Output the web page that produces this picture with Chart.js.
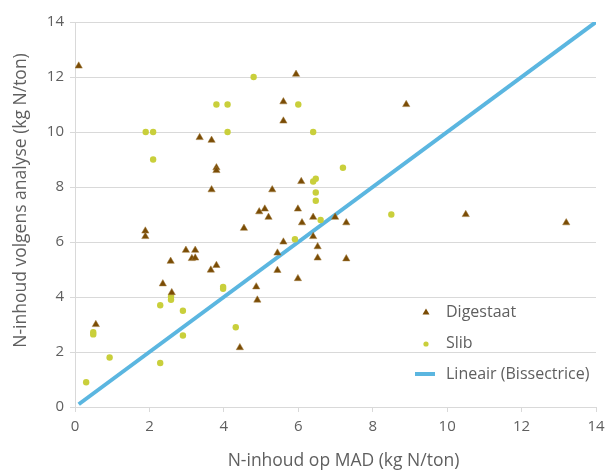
<!DOCTYPE html>
<html>
<head>
<meta charset="utf-8">
<script src="https://cdn.jsdelivr.net/npm/chart.js@4.4.1/dist/chart.umd.min.js"></script>
<style>
  html, body { margin: 0; padding: 0; background: #ffffff; }
  #wrap { width: 608px; height: 471px; position: relative; }
</style>
</head>
<body>
<div id="wrap"><canvas id="c" width="608" height="471"></canvas></div>
<script>
// Digestaat: N content from MAD (x) vs. lab analysis (y), kg N/ton
const digestaatX = [0.1, 5.94, 5.6, 8.9, 5.6, 3.35, 3.67, 3.8, 3.8, 6.08, 3.67, 5.3, 4.95, 5.1, 5.99, 5.2, 6.4, 6.99, 10.5, 4.54, 6.1, 7.29, 13.2, 1.89, 1.89, 6.4, 5.6, 6.52, 2.98, 3.23, 3.14, 3.23, 5.44, 6.52, 7.29, 2.57, 3.65, 3.8, 5.44, 5.99, 2.36, 2.6, 4.87, 4.9, 0.56, 4.43];
const digestaatY = [12.4, 12.1, 11.1, 11.0, 10.4, 9.8, 9.7, 8.7, 8.6, 8.2, 7.9, 7.9, 7.1, 7.2, 7.2, 6.9, 6.9, 6.9, 7.0, 6.5, 6.7, 6.7, 6.7, 6.4, 6.2, 6.2, 6.0, 5.83, 5.7, 5.7, 5.4, 5.42, 5.6, 5.42, 5.39, 5.3, 4.98, 5.15, 4.97, 4.67, 4.48, 4.16, 4.37, 3.89, 3.0, 2.16];

// Slib: N content from MAD (x) vs. lab analysis (y), kg N/ton
const slibX = [4.8, 3.8, 4.1, 6.0, 1.9, 2.1, 4.1, 6.4, 2.1, 7.2, 6.47, 6.4, 6.47, 6.47, 8.5, 6.6, 5.91, 3.98, 3.98, 2.58, 2.58, 2.29, 2.9, 0.49, 0.49, 4.32, 2.9, 0.93, 2.29, 0.3];
const slibY = [12.0, 11.0, 11.0, 11.0, 10.0, 10.0, 10.0, 10.0, 9.0, 8.7, 8.3, 8.2, 7.8, 7.5, 7.0, 6.8, 6.1, 4.37, 4.3, 4.02, 3.9, 3.7, 3.5, 2.72, 2.64, 2.9, 2.6, 1.8, 1.6, 0.9];

// Bisector y = x
const bisectX = [0.1, 14];
const bisectY = [0.1, 14];

// Axis ticks
const axisTicks = [0, 2, 4, 6, 8, 10, 12, 14];

const toPoints = (xs, ys) => xs.map((x, i) => ({ x: x, y: ys[i] }));

const BROWN = '#7a4c05';
const LIME = '#c9cf3b';
const BLUE = '#5bb6e0';
const TEXT = '#5f5f5f';
const GRID = '#d9d9d9';
const FONT = '"Open Sans", Lato, sans-serif';

Chart.defaults.font.family = FONT;
Chart.defaults.font.size = 15;
Chart.defaults.color = TEXT;

// Axis titles, placed by hand next to the axes
const axisTitles = {
  id: 'axisTitles',
  afterDraw(chart) {
    const ctx = chart.ctx;
    const area = chart.chartArea;
    const xt = chart.options.scales.x.title.text;
    const yt = chart.options.scales.y.title.text;
    ctx.save();
    ctx.font = '17.5px ' + FONT;
    ctx.fillStyle = TEXT;
    ctx.textAlign = 'center';
    ctx.textBaseline = 'middle';
    ctx.fillText(xt, (area.left + area.right) / 2 + 8, 461);
    ctx.translate(21, (area.top + area.bottom) / 2 - 14);
    ctx.rotate(-Math.PI / 2);
    ctx.fillText(yt, 0, 0);
    ctx.restore();
  }
};

// Legend box drawn inside the plot area, lower right
const insideLegend = {
  id: 'insideLegend',
  afterDraw(chart) {
    const ctx = chart.ctx;
    const items = [
      { label: 'Digestaat', kind: 'triangle' },
      { label: 'Slib', kind: 'circle' },
      { label: 'Lineair (Bissectrice)', kind: 'line' }
    ];
    const markX = 426, textX = 446, startY = 312, step = 31;
    ctx.save();
    ctx.font = '16px ' + FONT;
    ctx.textBaseline = 'middle';
    ctx.textAlign = 'left';
    items.forEach((it, i) => {
      const y = startY + i * step;
      if (it.kind === 'triangle') {
        ctx.fillStyle = BROWN;
        ctx.beginPath();
        ctx.moveTo(markX, y - 3.5);
        ctx.lineTo(markX + 3.5, y + 2.5);
        ctx.lineTo(markX - 3.5, y + 2.5);
        ctx.closePath();
        ctx.fill();
      } else if (it.kind === 'circle') {
        ctx.fillStyle = LIME;
        ctx.beginPath();
        ctx.arc(markX, y + 1, 2.6, 0, Math.PI * 2);
        ctx.fill();
      } else {
        ctx.strokeStyle = BLUE;
        ctx.lineWidth = 4;
        ctx.beginPath();
        ctx.moveTo(415, y);
        ctx.lineTo(435, y);
        ctx.stroke();
      }
      ctx.fillStyle = TEXT;
      ctx.fillText(it.label, textX, y);
    });
    ctx.restore();
  }
};

new Chart(document.getElementById('c'), {
  type: 'scatter',
  data: {
    datasets: [
      {
        label: 'Digestaat',
        data: toPoints(digestaatX, digestaatY),
        pointStyle: 'triangle',
        pointRadius: 4.2,
        backgroundColor: BROWN,
        borderColor: '#a07a3c',
        borderWidth: 0.5,
        order: 1
      },
      {
        label: 'Slib',
        data: toPoints(slibX, slibY),
        pointStyle: 'circle',
        pointRadius: 3.2,
        backgroundColor: LIME,
        borderColor: LIME,
        borderWidth: 0,
        order: 2
      },
      {
        type: 'line',
        label: 'Lineair (Bissectrice)',
        data: toPoints(bisectX, bisectY),
        borderColor: BLUE,
        borderWidth: 4,
        pointRadius: 0,
        fill: false,
        tension: 0,
        order: 3
      }
    ]
  },
  options: {
    responsive: false,
    animation: false,
    devicePixelRatio: 1,
    layout: { padding: { left: 0, right: 12, top: 22, bottom: 0 } },
    plugins: {
      legend: { display: false },
      tooltip: { enabled: false }
    },
    scales: {
      x: {
        type: 'linear',
        min: 0,
        max: 14,
        afterBuildTicks(scale) { scale.ticks = axisTicks.map(v => ({ value: v })); },
        afterFit(scale) {
          scale.height = 64;
          scale.paddingLeft = 0;
          scale.paddingRight = 0;
        },
        grid: {
          drawOnChartArea: false,
          drawTicks: true,
          tickLength: 5,
          color: GRID
        },
        border: { display: true, color: GRID, width: 1 },
        ticks: { padding: 6, color: TEXT, font: { size: 15 } },
        title: { display: false, text: 'N-inhoud op MAD (kg N/ton)' }
      },
      y: {
        type: 'linear',
        min: 0,
        max: 14,
        afterBuildTicks(scale) { scale.ticks = axisTicks.map(v => ({ value: v })); },
        afterFit(scale) { scale.width = 75; },
        grid: {
          drawOnChartArea: true,
          drawTicks: true,
          tickLength: 5,
          color: GRID
        },
        border: { display: true, color: GRID, width: 1 },
        ticks: { padding: 6, color: TEXT, font: { size: 15 } },
        title: { display: false, text: 'N-inhoud volgens analyse (kg N/ton)' }
      }
    }
  },
  plugins: [axisTitles, insideLegend]
});
</script>
</body>
</html>
